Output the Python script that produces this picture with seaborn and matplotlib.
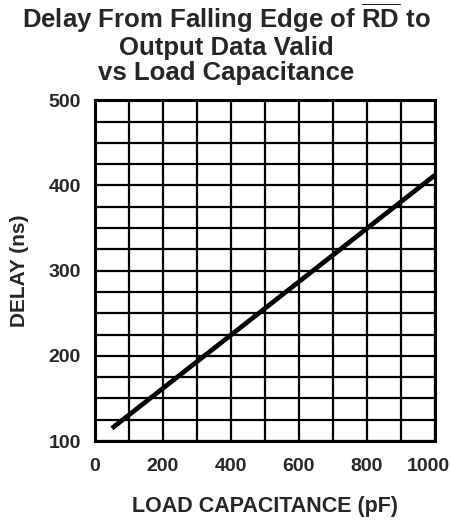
import numpy as np
import pandas as pd
import matplotlib
matplotlib.use("Agg")
import matplotlib.pyplot as plt
import matplotlib.transforms as mtransforms
import seaborn as sns

# values
load_pf = [50, 1000]
delay_ns = [115, 412]

x_ticks = [0, 200, 400, 600, 800, 1000]
y_ticks = [100, 200, 300, 400, 500]

sns.set_style("white")
plt.rcParams["font.family"] = ["Liberation Sans", "DejaVu Sans"]
plt.rcParams["font.weight"] = "bold"
plt.rcParams["mathtext.fontset"] = "custom"
plt.rcParams["mathtext.rm"] = "Liberation Sans:bold"
plt.rcParams["mathtext.bf"] = "Liberation Sans:bold"


def main():
    df = pd.DataFrame({"load": load_pf, "delay": delay_ns})

    fig = plt.figure(figsize=(4.52, 5.22), dpi=100)
    ax = fig.add_axes([0.210, 0.155, 0.752, 0.653])

    sns.lineplot(data=df, x="load", y="delay", ax=ax, color="black",
                 linewidth=3.4, solid_capstyle="butt")

    ax.set_xlim(0, 1000)
    ax.set_ylim(100, 500)

    # grid every 100 pF / 25 ns, labels only on the printed values
    xg = np.arange(0, 1001, 100)
    yg = np.arange(100, 501, 25)
    ax.set_xticks(xg, labels=[str(v) if v in x_ticks else "" for v in xg])
    ax.set_yticks(yg, labels=[str(v) if v in y_ticks else "" for v in yg])
    ax.grid(True, color="black", linewidth=1.6)
    ax.set_axisbelow(True)

    ax.tick_params(length=0)
    ax.tick_params(axis="x", labelsize=14, pad=12)
    ax.tick_params(axis="y", labelsize=14, pad=10)
    for lab in ax.get_xticklabels() + ax.get_yticklabels():
        lab.set_fontweight("bold")
    last = ax.get_xticklabels()[-1]
    last.set_transform(last.get_transform() +
                       mtransforms.ScaledTranslation(-7 / 100, 0, fig.dpi_scale_trans))

    for s in ax.spines.values():
        s.set_visible(True)
        s.set_color("black")
        s.set_linewidth(2.2)

    ax.set_xlabel("LOAD CAPACITANCE (pF)", fontsize=15.5, fontweight="bold",
                  labelpad=15)
    ax.set_ylabel("DELAY (ns)", fontsize=15, fontweight="bold", labelpad=14)

    fig.suptitle("Delay From Falling Edge of $\\overline{\\mathrm{RD}}$ to\n"
                 "Output Data Valid\nvs Load Capacitance",
                 x=0.5, y=0.996, fontsize=18.5, fontweight="bold",
                 linespacing=1.03, va="top")

    fig.savefig("out.png", dpi=100)
    plt.close(fig)


if __name__ == "__main__":
    main()
